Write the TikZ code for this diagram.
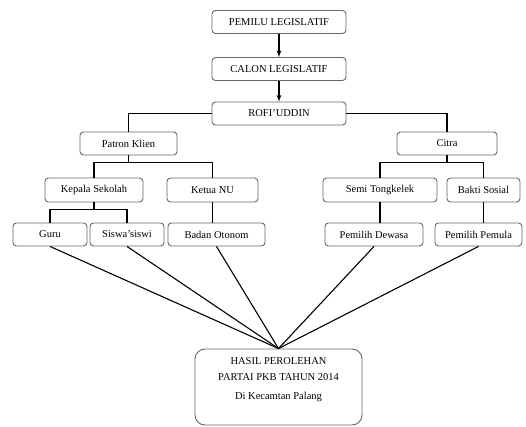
\documentclass[tikz,border=0pt]{standalone}
\usepackage{fontspec}
\setmainfont{Liberation Serif}
\usetikzlibrary{positioning}
\usetikzlibrary{calc}

\begin{document}
\begin{tikzpicture}[x=1pt, y=-1pt, >=latex,
	box/.style={draw=black!60, line width=0.9pt, rounded corners=3.5pt, minimum height=23pt, inner sep=0pt, font=\fontsize{10.5}{12}\selectfont},
	link/.style={line width=1.1pt}]
	\useasboundingbox (0,0) rectangle (526,427);
	% top chain
	\node (pemilu) at (279, 22) [box, minimum width=134pt] {PEMILU LEGISLATIF};
	\node (calon) at (279, 69) [box, minimum width=134pt] {CALON LEGISLATIF};
	\node (rofi) at (279, 113.5) [box, minimum width=134pt] {ROFI'UDDIN};
	% second level
	\node (patron) at (128.5, 143.5) [box, minimum width=97pt] {Patron Klien};
	\node (citra) at (447, 143.5) [box, minimum width=100pt] {Citra};
	% third level
	\node (kepala) at (94, 190) [box, minimum width=98pt, minimum height=24pt] {Kepala Sekolah};
	\node (ketua) at (212.5, 190) [box, minimum width=91pt, minimum height=24pt] {Ketua NU};
	\node (semi) at (380, 190) [box, minimum width=114pt, minimum height=24pt] {Semi Tongkelek};
	\node (bakti) at (483.5, 190) [box, minimum width=73pt, minimum height=24pt] {Bakti Sosial};
	% bottom row
	\node (guru) at (50, 234.5) [box, minimum width=74pt] {Guru};
	\node (siswa) at (127, 234.5) [box, minimum width=74pt] {Siswa'siswi};
	\node (badan) at (216.5, 234.5) [box, minimum width=97pt] {Badan Otonom};
	\node (dewasa) at (374, 234.5) [box, minimum width=98pt] {Pemilih Dewasa};
	\node (pemula) at (478.5, 234.5) [box, minimum width=87pt] {Pemilih Pemula};
	% result
	\node (hasil) at (278.5, 387) [box, rounded corners=10pt, minimum width=167pt, minimum height=76pt] {};
	\node (hasiltxt) at (278.5, 380) [align=center, font=\fontsize{10.5}{16}\selectfont] {HASIL PEROLEHAN\\PARTAI PKB TAHUN 2014\\[3pt]Di Kecamtan Palang};
	% connectors
	\draw [link, ->] (pemilu) -- (calon);
	\draw [link, ->] (calon) -- (rofi);
	\draw [link] (rofi.west) -| (patron.north);
	\draw [link] (rofi.east) -| (citra.north);
	\coordinate (pk) at ($(patron.south)+(0,7)$);
	\draw [link] (patron.south) -- (pk);
	\draw [link] (kepala.north) |- (pk) -| (ketua.north);
	\coordinate (ct) at ($(citra.south)+(0,7)$);
	\draw [link] (citra.south) -- (ct);
	\draw [link] (semi.north) |- (ct) -| (bakti.north);
	\coordinate (ks) at ($(kepala.south)+(0,7)$);
	\draw [link] (kepala.south) -- (ks);
	\draw [link] (guru.north) |- (ks) -| (siswa.north);
	\draw [link] (ketua.south) -- (ketua.south |- badan.north);
	\draw [link] (semi.south) -- (semi.south |- dewasa.north);
	\draw [link] (bakti.south) -- (bakti.south |- pemula.north);
	\foreach \n in {guru,siswa,badan,dewasa,pemula}
		\draw [link] (\n.south) -- (hasil.north);
\end{tikzpicture}
\end{document}
